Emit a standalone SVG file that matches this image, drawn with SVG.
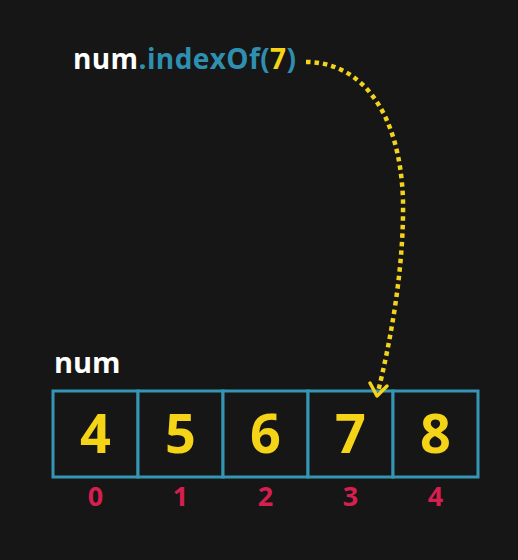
<svg xmlns="http://www.w3.org/2000/svg" width="518" height="560" viewBox="0 0 518 560">
  <defs>
    <style>
      .bg { fill: #161616; }
      .cell { fill: #161616; stroke: #3496b4; stroke-width: 3; }
      .val { font-family: "Open Sans", "Noto Sans", sans-serif; font-weight: 700; font-size: 54px; fill: #f5d418; text-anchor: middle; }
      .idx { font-family: "Open Sans", "Noto Sans", sans-serif; font-weight: 700; font-size: 27px; fill: #d61f4f; text-anchor: middle; }
      .lbl { font-family: "Open Sans", "Noto Sans", sans-serif; font-weight: 700; fill: #ffffff; }
      .code { font-family: "Open Sans", "Noto Sans", sans-serif; font-weight: 700; font-size: 28px; letter-spacing: 0.4px; }
      .conn { fill: none; stroke: #f3d31c; stroke-width: 4.5; stroke-dasharray: 4.5 4; }
      .head { fill: none; stroke: #f3d31c; stroke-width: 3.5; stroke-linecap: round; stroke-linejoin: round; }
    </style>
  </defs>
  <rect class="bg" x="0" y="0" width="518" height="560"/>

  <g id="call">
    <text class="code" x="73" y="69"><tspan fill="#ffffff">num</tspan><tspan fill="#2f8fb0">.indexOf(</tspan><tspan fill="#f5d418">7</tspan><tspan fill="#2f8fb0">)</tspan></text>
  </g>

  <g id="array-label">
    <text class="lbl" x="54" y="373" font-size="29">num</text>
  </g>

  <g id="array">
    <g id="cell0"><rect class="cell" x="53" y="391" width="85" height="86"/><text class="val" x="95.5" y="453">4</text><text class="idx" x="95.5" y="506">0</text></g>
    <g id="cell1"><rect class="cell" x="138" y="391" width="85" height="86"/><text class="val" x="180.5" y="453">5</text><text class="idx" x="180.5" y="506">1</text></g>
    <g id="cell2"><rect class="cell" x="223" y="391" width="85" height="86"/><text class="val" x="265.5" y="453">6</text><text class="idx" x="265.5" y="506">2</text></g>
    <g id="cell3"><rect class="cell" x="308" y="391" width="85" height="86"/><text class="val" x="350.5" y="453">7</text><text class="idx" x="350.5" y="506">3</text></g>
    <g id="cell4"><rect class="cell" x="393" y="391" width="85" height="86"/><text class="val" x="435.5" y="453">8</text><text class="idx" x="435.5" y="506">4</text></g>
  </g>

  <g id="connectors">
    <path class="conn" d="M306,62 C360,62 400,110 403,200 C404,265 392,335 378,392"/>
    <polyline class="head" points="370,383 377,396 387,386"/>
  </g>
</svg>
